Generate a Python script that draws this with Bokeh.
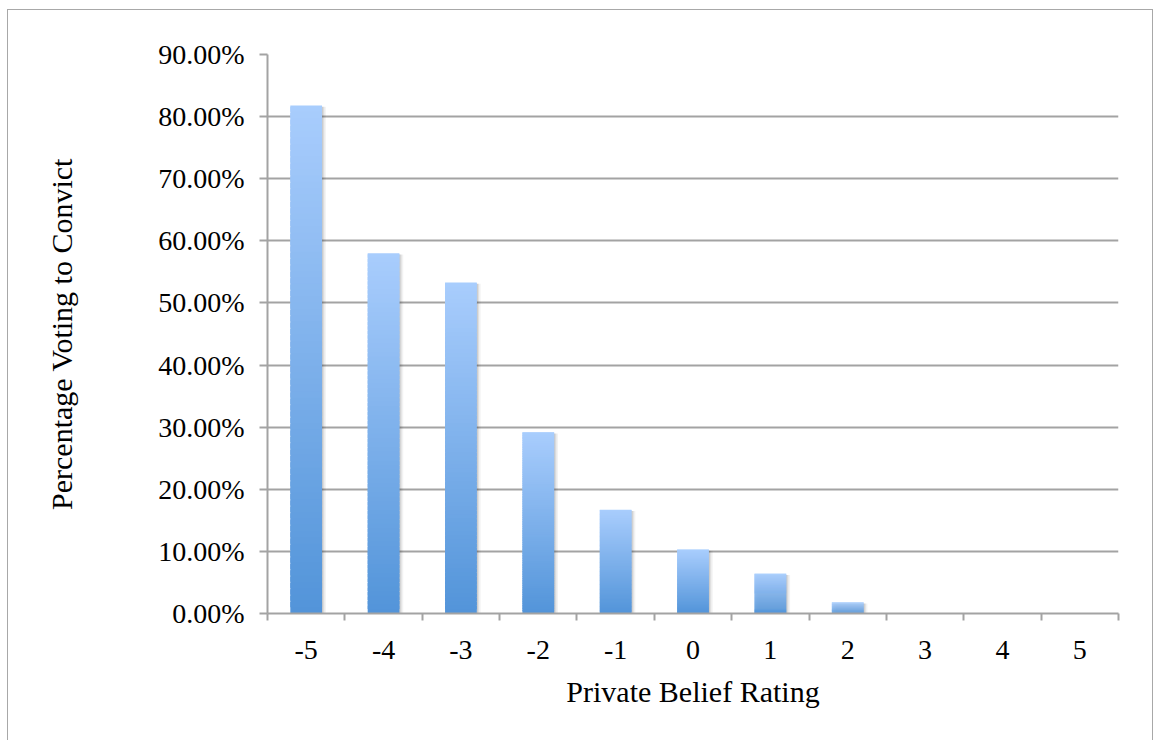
from bokeh.plotting import figure
from bokeh.models import FixedTicker, NumeralTickFormatter, Range1d
from bokeh.embed import file_html
from bokeh.resources import INLINE

# Data
ratings = [-5, -4, -3, -2, -1, 0, 1, 2, 3, 4, 5]
tick_labels = [str(r) for r in ratings]
pct_convict = [0.818, 0.580, 0.533, 0.292, 0.167, 0.103, 0.064, 0.018, 0.0, 0.0, 0.0]

FONT = "Liberation Serif"
GRID = "#a3a3a3"
TOP_RGB = (0xA9, 0xCD, 0xFD)
BOT_RGB = (0x52, 0x94, 0xD9)
BAR_W = 0.41
N_SLICES = 80

p = figure(
    width=1146, height=731,
    x_range=Range1d(-5.5, 5.5), y_range=Range1d(0, 0.9),
    output_backend="svg", toolbar_location=None,
    min_border_left=259, min_border_top=44, min_border_right=36, min_border_bottom=128,
)
p.margin = (9, 0, 0, 7)
p.styles = {"border-left": "1.5px solid #a8a8a8", "border-top": "1.5px solid #a8a8a8",
            "border-right": "1.5px solid #a8a8a8"}
p.outline_line_color = None
p.background_fill_color = "white"
p.border_fill_color = "white"

# soft shadow behind each bar
for dx, a in [(0.05, 0.05), (0.03, 0.07), (0.015, 0.09)]:
    p.quad(left=[r - BAR_W / 2 + dx for r in ratings], right=[r + BAR_W / 2 + dx for r in ratings],
           bottom=[0] * len(ratings), top=[max(v - 0.002, 0) for v in pct_convict],
           fill_color="black", fill_alpha=a, line_color=None)

# bars with a vertical gradient: light at the top, darker at the base
lefts, rights, bottoms, tops, colors = [], [], [], [], []
for r, v in zip(ratings, pct_convict):
    if v <= 0:
        continue
    for i in range(N_SLICES):
        f = (i + 0.5) / N_SLICES
        c = tuple(int(round(b + (t - b) * f)) for t, b in zip(TOP_RGB, BOT_RGB))
        lefts.append(r - BAR_W / 2)
        rights.append(r + BAR_W / 2)
        bottoms.append(v * i / N_SLICES)
        tops.append(min(v, v * (i + 1.8) / N_SLICES))
        colors.append("#%02x%02x%02x" % c)
p.quad(left=lefts, right=rights, bottom=bottoms, top=tops, fill_color=colors, line_color=None)

# x axis: labels at the ratings, ticks between the categories
xa = p.xaxis[0]
xa.ticker = FixedTicker(ticks=ratings, minor_ticks=[r - 0.5 for r in ratings] + [5.5])
xa.major_label_overrides = {r: lab for r, lab in zip(ratings, tick_labels)}
xa.major_tick_out = 0
xa.major_tick_in = 0
xa.minor_tick_out = 7
xa.minor_tick_in = 0
xa.minor_tick_line_color = GRID
xa.minor_tick_line_width = 2
xa.axis_line_color = GRID
xa.axis_line_width = 2
xa.major_label_text_font = FONT
xa.major_label_text_font_size = "28px"
xa.major_label_text_color = "black"
xa.major_label_standoff = 20
xa.axis_label = "Private Belief Rating"
xa.axis_label_text_font = FONT
xa.axis_label_text_font_size = "30px"
xa.axis_label_text_font_style = "normal"
xa.axis_label_text_color = "black"
xa.axis_label_standoff = 13

ya = p.yaxis[0]
ya.ticker = FixedTicker(ticks=[i / 10 for i in range(10)], minor_ticks=[])
ya.formatter = NumeralTickFormatter(format="0.00%")
ya.major_tick_out = 8
ya.major_tick_in = 0
ya.major_tick_line_color = GRID
ya.major_tick_line_width = 2
ya.axis_line_color = GRID
ya.axis_line_width = 2
ya.major_label_text_font = FONT
ya.major_label_text_font_size = "28px"
ya.major_label_text_color = "black"
ya.major_label_standoff = 15
ya.axis_label = "Percentage Voting to Convict"
ya.axis_label_text_font = FONT
ya.axis_label_text_font_size = "30px"
ya.axis_label_text_font_style = "normal"
ya.axis_label_text_color = "black"
ya.axis_label_standoff = 77

p.xgrid.grid_line_color = None
p.ygrid.ticker = FixedTicker(ticks=[i / 10 for i in range(1, 10)])
p.ygrid.grid_line_color = GRID
p.ygrid.grid_line_width = 2
p.ygrid.level = "underlay"

open("out.html", "w").write(file_html(p, INLINE))
